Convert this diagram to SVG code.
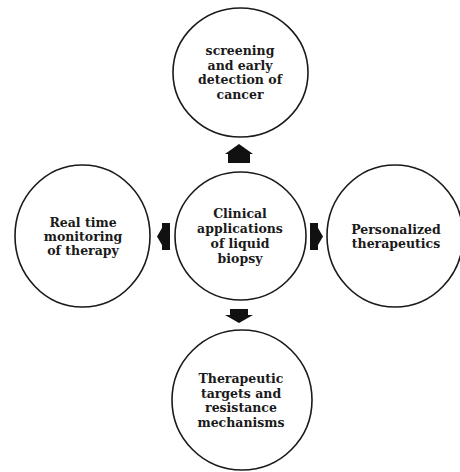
<svg xmlns="http://www.w3.org/2000/svg" width="460" height="472" viewBox="0 0 460 472">
  <style>
    .node { fill: #ffffff; stroke: #1a1a1a; stroke-width: 1.6; }
    .label { font-family: "DejaVu Serif", "Liberation Serif", serif; font-weight: bold; font-size: 12.5px; fill: #1a1a1a; text-anchor: middle; }
    .arrow { fill: #111111; stroke: none; }
  </style>
  <rect width="460" height="472" fill="#ffffff"/>

  <!-- top: screening -->
  <g id="node-screening">
    <ellipse class="node" cx="240.5" cy="72.5" rx="67.5" ry="64.5"/>
    <text class="label" x="240" y="55">screening</text>
    <text class="label" x="240" y="69.5">and early</text>
    <text class="label" x="240" y="84">detection of</text>
    <text class="label" x="240" y="98.5">cancer</text>
  </g>

  <!-- centre: clinical applications -->
  <g id="node-clinical">
    <ellipse class="node" cx="240.5" cy="236" rx="65.5" ry="64"/>
    <text class="label" x="240" y="218">Clinical</text>
    <text class="label" x="240" y="233">applications</text>
    <text class="label" x="240" y="248">of liquid</text>
    <text class="label" x="240" y="262.5">biopsy</text>
  </g>

  <!-- left: monitoring -->
  <g id="node-monitoring">
    <ellipse class="node" cx="82.5" cy="236" rx="67.5" ry="71"/>
    <text class="label" x="83" y="226.5">Real time</text>
    <text class="label" x="83" y="240.5">monitoring</text>
    <text class="label" x="83" y="254.5">of therapy</text>
  </g>

  <!-- right: personalized therapeutics -->
  <g id="node-personalized">
    <ellipse class="node" cx="395" cy="236" rx="68" ry="71"/>
    <text class="label" x="396" y="233.5">Personalized</text>
    <text class="label" x="396" y="247.5">therapeutics</text>
  </g>

  <!-- bottom: therapeutic targets -->
  <g id="node-targets">
    <ellipse class="node" cx="242" cy="400" rx="70" ry="70"/>
    <text class="label" x="241" y="383">Therapeutic</text>
    <text class="label" x="241" y="397.5">targets and</text>
    <text class="label" x="241" y="412">resistance</text>
    <text class="label" x="241" y="426.5">mechanisms</text>
  </g>

  <!-- block arrows from the centre outwards -->
  <g id="connectors">
    <polygon class="arrow" points="239,144 253,154 250,154 250,163 228,163 228,154 225,154"/>
    <polygon class="arrow" points="230,309 248,309 248,315 253,315 239,323 225,315 230,315"/>
    <polygon class="arrow" points="170,223 162,223 162,228 157,236.5 162,245 162,250 170,250"/>
    <polygon class="arrow" points="310,223 318,223 318,228 323,236.5 318,245 318,250 310,250"/>
  </g>
</svg>
